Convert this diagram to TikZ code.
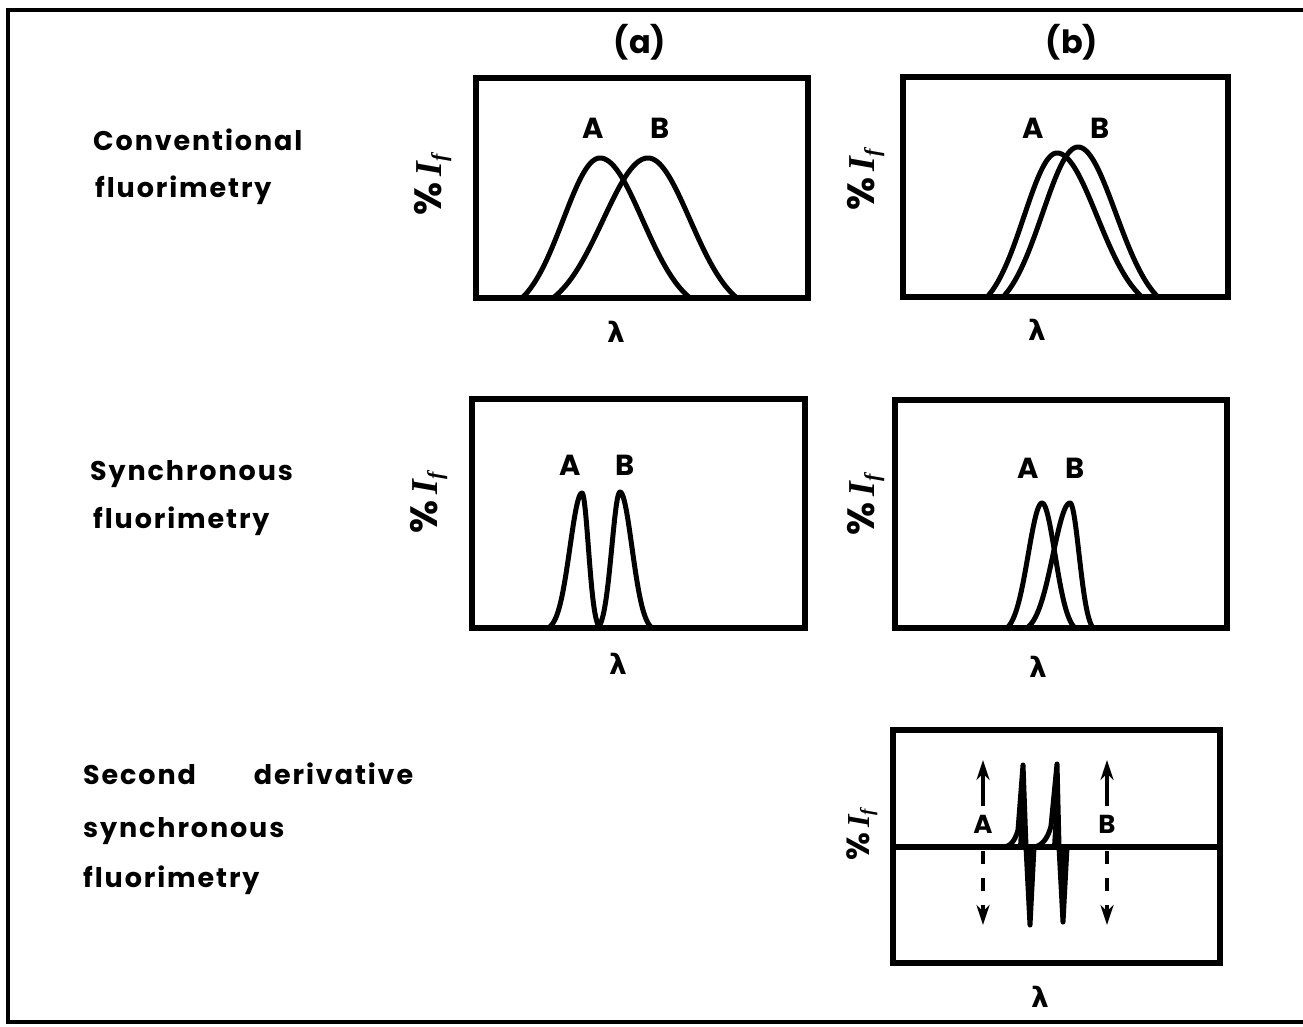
\documentclass[tikz,border=0pt]{standalone}
\usepackage{fontspec}
\setmainfont{Poppins}
\newfontfamily\rowfont{Poppins}[LetterSpace=7]
\newfontfamily\dvs{DejaVu Sans}
\newfontfamily\lser{Liberation Serif}
\usetikzlibrary{arrows.meta}
\newcommand\pkcurve[6]{% start, mu, end, base, height, c
  \draw[curve] plot[domain=#1:#2, samples=40]
    (\x,{#4-#5*(exp(-((#6*(\x-#2)/(#2-#1))^2))-exp(-(#6*#6)))/(1-exp(-(#6*#6)))})
    -- plot[domain=#2:#3, samples=40]
    (\x,{#4-#5*(exp(-((#6*(\x-#2)/(#3-#2))^2))-exp(-(#6*#6)))/(1-exp(-(#6*#6)))});}
\newcommand\pIf[1]{\%\,{\lser\bfseries\itshape I}\raisebox{-0.12em}{\lser\bfseries\itshape\fontsize{#1}{#1}\selectfont f}}
\newcommand\lamb{{\dvs\bfseries λ}}
\begin{document}
\begin{tikzpicture}[x=1pt,y=-1pt,
  frame/.style={line width=5.5pt},
  outer/.style={line width=3.5pt},
  curve/.style={line width=5pt, line join=round, line cap=round},
  rowtxt/.style={font=\rowfont\fontsize{27}{30}\selectfont\bfseries, anchor=base west, inner sep=0pt},
  pklab/.style={font=\fontsize{29}{30}\selectfont\bfseries, inner sep=0pt},
  lam/.style={font=\fontsize{28}{30}\selectfont, inner sep=0pt},
  ylab/.style={rotate=90, font=\fontsize{38}{38}\selectfont\bfseries, inner sep=0pt},
  hd/.style={font=\fontsize{32}{34}\selectfont\bfseries, inner sep=0pt},
  arr/.style={line width=4pt, -{Stealth[length=20pt,width=13pt]}}
]
\useasboundingbox (0,0) rectangle (1303,1026);
\fill[white] (0,0) rectangle (1303,1026);
% outer frame
\draw[outer] (1303,10) -- (8,10) -- (8,1022) -- (1303,1022);

% column heads
\node[hd] (ha) at (640,42) {(a)};
\node[hd] (hb) at (1072,42) {(b)};

% row labels
\node[rowtxt] (r1a) at (93,150) {Conventional};
\node[rowtxt] (r1b) at (95,197) {fluorimetry};
\node[rowtxt] (r2a) at (90,480) {Synchronous};
\node[rowtxt] (r2b) at (93,528) {fluorimetry};
\node[rowtxt] (r3a) at (83,784) {Second\hspace{58pt}derivative};
\node[rowtxt] (r3b) at (83,837) {synchronous};
\node[rowtxt] (r3c) at (83,887) {fluorimetry};

% ---------- panel a1
\draw[frame] (476,78) rectangle (808,298);
\pkcurve{522}{600}{690}{298}{140}{1.5}
\pkcurve{553}{648}{737}{298}{140}{1.5}
\node[pklab] (a1A) at (593,128) {A};
\node[pklab] (a1B) at (660,128) {B};
\node[lam] (a1l) at (616,332) {\lamb};
\node[ylab] (a1y) at (433,185) {\pIf{22}};

% ---------- panel b1
\draw[frame] (903,77) rectangle (1228,297);
\pkcurve{987}{1057}{1142}{297}{144}{1.5}
\pkcurve{1003}{1078}{1158}{297}{150}{1.5}
\node[pklab] (b1A) at (1033,128) {A};
\node[pklab] (b1B) at (1100,128) {B};
\node[lam] (b1l) at (1037,330) {\lamb};
\node[ylab] (b1y) at (866,180) {\pIf{22}};

% ---------- panel a2
\draw[frame] (472,399) rectangle (805,628);
\pkcurve{548}{582}{600}{628}{135}{2.0}
\pkcurve{598}{620}{652}{628}{136}{1.9}
\node[pklab] (a2A) at (570,465) {A};
\node[pklab] (a2B) at (625,465) {B};
\node[lam] (a2l) at (618,664) {\lamb};
\node[ylab] (a2y) at (429,503) {\pIf{22}};

% ---------- panel b2
\draw[frame] (895,400) rectangle (1227,628);
\pkcurve{1007}{1042}{1075}{628}{125}{1.8}
\pkcurve{1027}{1070}{1093}{628}{125}{1.8}
\node[pklab] (b2A) at (1028,468) {A};
\node[pklab] (b2B) at (1075,468) {B};
\node[lam] (b2l) at (1038,667) {\lamb};
\node[ylab] (b2y) at (866,505) {\pIf{22}};

% ---------- panel b3
\draw[frame] (893,730) rectangle (1220,963);
\coordinate (mL) at (893,847);
\coordinate (mR) at (1220,847);
\draw[frame] (mL) -- (mR);
\draw[curve, line width=5pt] (1003,847) .. controls (1010,847) and (1015,841) .. (1018,830)
  -- (1023,765) -- (1026,847) -- (1030,925) -- (1034,847)
  .. controls (1042,846) and (1048,838) .. (1051,826)
  -- (1057,764) -- (1059,847) -- (1063,922) -- (1067,847);
\fill (1018,847) -- (1023,765) -- (1028,847) -- cycle;
\fill (1025,847) -- (1030,925) -- (1035,847) -- cycle;
\fill (1052,847) -- (1057,764) -- (1061,847) -- cycle;
\fill (1059,847) -- (1063,922) -- (1068,847) -- cycle;
\node[pklab, font=\fontsize{26}{26}\selectfont\bfseries] (b3A) at (983,824) {A};
\node[pklab, font=\fontsize{26}{26}\selectfont\bfseries] (b3B) at (1107,824) {B};
\coordinate (Aup0) at (983,806);
\coordinate (Aup1) at (983,760);
\coordinate (Adn0) at (983,851);
\coordinate (Adn1) at (983,925);
\coordinate (Bup0) at (1107,806);
\coordinate (Bup1) at (1107,760);
\coordinate (Bdn0) at (1107,851);
\coordinate (Bdn1) at (1107,925);
\draw[arr] (Aup0) -- (Aup1);
\draw[arr] (Bup0) -- (Bup1);
\draw[arr, dash pattern=on 13pt off 14pt] (Adn0) -- (Adn1);
\draw[arr, dash pattern=on 13pt off 14pt] (Bdn0) -- (Bdn1);
\node[lam] (b3l) at (1040,997) {\lamb};
\node[ylab, font=\fontsize{32}{32}\selectfont\bfseries] (b3y) at (862,835) {\pIf{19}};
\end{tikzpicture}
\end{document}
